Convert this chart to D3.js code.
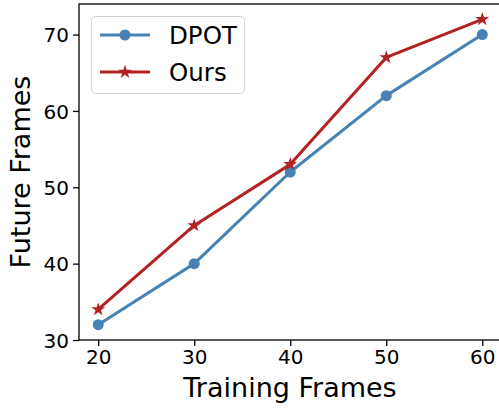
<!DOCTYPE html>
<html><head><meta charset="utf-8">
<script src="https://cdn.jsdelivr.net/npm/d3@7"></script>
<style>body{margin:0;background:#fff}svg{display:block}text{font-family:"DejaVu Sans",sans-serif}</style>
</head><body>
<script>
const trainingFrames = [20, 30, 40, 50, 60];
const dpot = [32, 40, 52, 62, 70];
const ours = [34, 45, 53, 67, 72];
const xTicks = [20, 30, 40, 50, 60];
const yTicks = [30, 40, 50, 60, 70];
const seriesNames = ["DPOT", "Ours"];
const seriesColors = ["#4682b4", "#b22222"];

const W = 499, H = 408;
const svg = d3.select("body").append("svg").attr("width", W).attr("height", H);
const L = 79, R = 501.5, T = 4, B = 340;
const x = d3.scaleLinear().domain([18, 62]).range([L, R]);
const y = d3.scaleLinear().domain([30, 74]).range([B, T]);

// frame
svg.append("rect").attr("x", L).attr("y", T).attr("width", R - L).attr("height", B - T)
  .attr("fill", "none").attr("stroke", "#000").attr("stroke-width", 1.3);

const xAxis = svg.append("g").attr("transform", `translate(0,${B})`)
  .call(d3.axisBottom(x).tickValues(xTicks).tickSize(6).tickPadding(4).tickFormat(d3.format("d")));
const yAxis = svg.append("g").attr("transform", `translate(${L},0)`)
  .call(d3.axisLeft(y).tickValues(yTicks).tickSize(6).tickPadding(4).tickFormat(d3.format("d")));
[xAxis, yAxis].forEach(g => {
  g.select(".domain").remove();
  g.selectAll(".tick line").attr("stroke", "#000").attr("stroke-width", 1.3);
  g.selectAll(".tick text").attr("font-size", 20).attr("fill", "#000").attr("font-family", "DejaVu Sans");
});
yAxis.selectAll(".tick text").attr("dy", "0.36em");

svg.append("text").attr("x", 290).attr("y", 397).attr("text-anchor", "middle")
  .attr("font-size", 27).text("Training Frames");
svg.append("text").attr("transform", `translate(30,${(T + B) / 2}) rotate(-90)`)
  .attr("text-anchor", "middle").attr("font-size", 27).text("Future Frames");

const line = d3.line().x((d, i) => x(trainingFrames[i])).y(d => y(d));
const allSeries = [dpot, ours];
allSeries.forEach((s, k) => {
  svg.append("path").datum(s).attr("d", line).attr("fill", "none")
    .attr("stroke", seriesColors[k]).attr("stroke-width", 3).attr("stroke-linejoin", "round");
});
svg.selectAll(".dot").data(dpot).enter().append("circle")
  .attr("cx", (d, i) => x(trainingFrames[i])).attr("cy", d => y(d)).attr("r", 5.5)
  .attr("fill", seriesColors[0]);
const star = d3.symbol().type(d3.symbolStar).size(60);
svg.selectAll(".star").data(ours).enter().append("path")
  .attr("transform", (d, i) => `translate(${x(trainingFrames[i])},${y(d)})`)
  .attr("d", star).attr("fill", seriesColors[1]);

// legend
const lg = svg.append("g");
lg.append("rect").attr("x", 91.5).attr("y", 16.5).attr("width", 153).attr("height", 77).attr("rx", 4)
  .attr("fill", "#fff").attr("fill-opacity", 0.8).attr("stroke", "#d0d0d0").attr("stroke-width", 1);
seriesNames.forEach((n, k) => {
  const yy = 35 + k * 37;
  lg.append("line").attr("x1", 100).attr("x2", 150).attr("y1", yy).attr("y2", yy)
    .attr("stroke", seriesColors[k]).attr("stroke-width", 3);
  if (k === 0) lg.append("circle").attr("cx", 125).attr("cy", yy).attr("r", 5.5).attr("fill", seriesColors[0]);
  else lg.append("path").attr("transform", `translate(125,${yy})`).attr("d", star).attr("fill", seriesColors[1]);
  lg.append("text").attr("x", 169).attr("y", yy).attr("dy", "0.36em").attr("font-size", 24.5).text(n);
});
</script>
</body></html>
